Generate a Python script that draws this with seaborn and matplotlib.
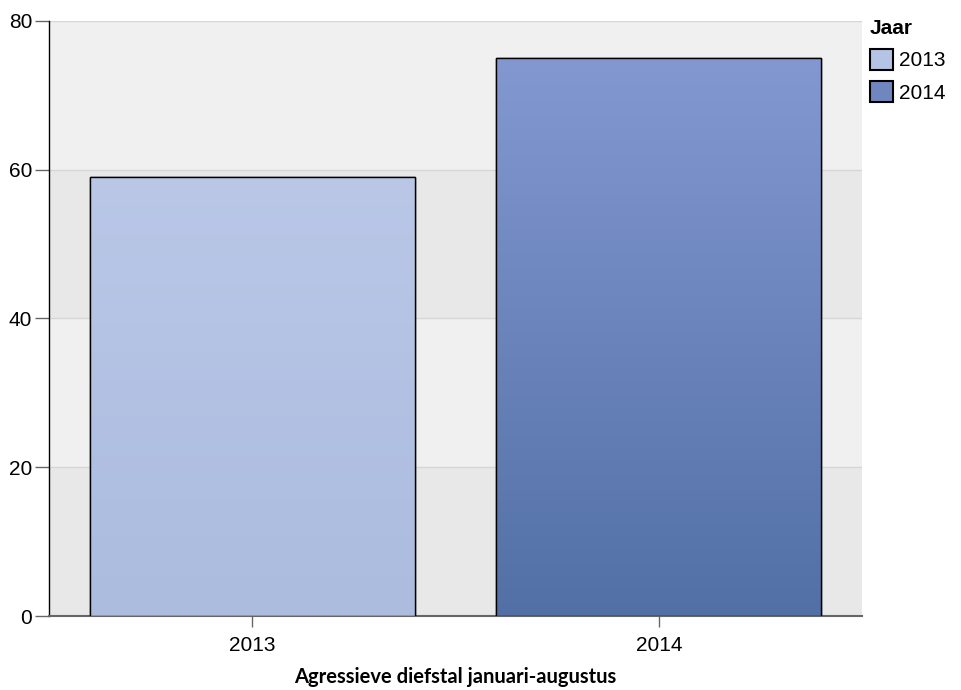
import numpy as np
import pandas as pd
import matplotlib
matplotlib.use('Agg')
import matplotlib.pyplot as plt
import matplotlib.colors as mcolors
from matplotlib.patches import Patch
import seaborn as sns

# Data
jaren = ['2013', '2014']
aantallen = [59, 75]
kleur_boven = ['#bac7e7', '#8398d1']
kleur_onder = ['#abbcdf', '#5270a6']
kleur_legend = ['#b5c3e4', '#6f86bf']

df = pd.DataFrame({'Jaar': jaren, 'Aantal': aantallen})

sns.set_style('white')
plt.rcParams['font.family'] = ['Liberation Sans', 'DejaVu Sans']
plt.rcParams['text.color'] = 'black'
plt.rcParams['xtick.labelcolor'] = 'black'
plt.rcParams['ytick.labelcolor'] = 'black'

fig = plt.figure(figsize=(9.61, 6.9), dpi=100)
ax = fig.add_axes([0.051, 0.107, 0.846, 0.863])

sns.barplot(data=df, x='Jaar', y='Aantal', hue='Jaar', palette=kleur_legend,
            width=0.8, edgecolor='black', linewidth=1, legend=False, ax=ax, zorder=3)
bars = list(ax.patches)

ax.set_ylim(0, 80)
ax.set_xlim(-0.5, 1.5)

# alternating background bands
band_kleuren = ['#e8e8e8', '#f0f0f0']
for i, y0 in enumerate(range(0, 80, 20)):
    ax.axhspan(y0, y0 + 20, color=band_kleuren[i % 2], zorder=0, lw=0)
for y in [20, 40, 60, 80]:
    ax.axhline(y, color='#d6d6d6', lw=1, zorder=1)

# vertical gradient inside each bar
for i, patch in enumerate(bars):
    x0, y0 = patch.get_x(), patch.get_y()
    w, h = patch.get_width(), patch.get_height()
    cmap = mcolors.LinearSegmentedColormap.from_list('g', [kleur_onder[i], kleur_boven[i]])
    grad = np.linspace(0, 1, 256).reshape(-1, 1)
    im = ax.imshow(grad, cmap=cmap, aspect='auto', origin='lower',
                   extent=[x0, x0 + w, y0, y0 + h], zorder=3.5)
    im.set_clip_path(patch)
    edge = plt.Rectangle((x0, y0), w, h, fill=False, edgecolor='black', lw=1, zorder=4)
    ax.add_patch(edge)
ax.set_xlim(-0.5, 1.5)
ax.set_ylim(0, 80)

ax.set_yticks([0, 20, 40, 60, 80])
ax.tick_params(axis='y', length=10, width=1, color='#666666', labelsize=15, pad=2, left=True,
               labelcolor='black')
ax.tick_params(axis='x', length=8, width=1, color='#666666', labelsize=15, pad=6, bottom=True,
               labelcolor='black')

for s in ['top', 'right']:
    ax.spines[s].set_visible(False)
ax.spines['left'].set_color('black')
ax.spines['left'].set_linewidth(1)
ax.spines['bottom'].set_color('#666666')
ax.spines['bottom'].set_linewidth(1.5)

ax.set_ylabel('')
ax.set_xlabel('Agressieve diefstal januari-augustus', fontsize=14.5, family=['Lato', 'DejaVu Sans'],
              fontweight='bold', color='black', labelpad=9)

handles = [Patch(facecolor=kleur_legend[i], edgecolor='black', linewidth=1.5, label=j)
           for i, j in enumerate(jaren)]
leg = fig.legend(handles=handles, title='Jaar', loc='upper left', bbox_to_anchor=(0.903, 0.975),
                 frameon=False, fontsize=15, handlelength=1.1, handleheight=1.2,
                 handletextpad=0.3, labelspacing=0.5, borderaxespad=0, borderpad=0.1)
leg.get_title().set_fontweight('bold')
leg.get_title().set_fontsize(15)
leg._legend_box.align = 'left'

fig.savefig('out.png', dpi=100)
